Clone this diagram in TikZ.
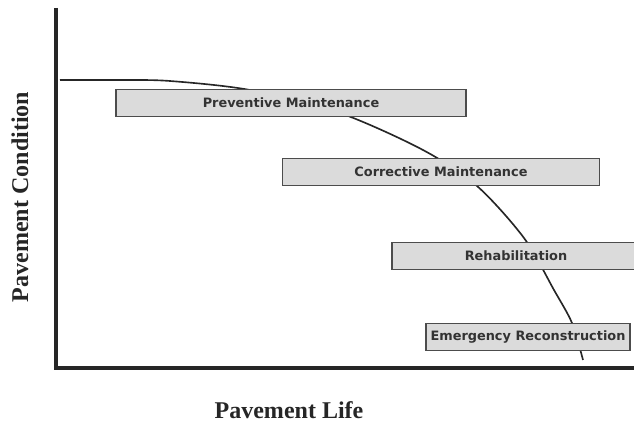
\documentclass[tikz,border=0pt]{standalone}
\usepackage{fontspec}
\setmainfont{Liberation Serif}
\newfontfamily\stagefont{DejaVu Sans}

\begin{document}
\begin{tikzpicture}[x=0.3mm, y=-0.3mm,
    stage/.style = {draw=black!70, line width=0.9pt, fill=black!14, text=black!80,
        inner sep=0pt, minimum height=8.1mm,
        font=\stagefont\bfseries\fontsize{11}{13}\selectfont},
    axislabel/.style = {text=black!85, font=\bfseries\fontsize{20.5}{24}\selectfont},
    axis/.style = {line width=1.2mm, black!85},
    life/.style = {line width=1.4pt, black!85}]
        \useasboundingbox (0,0) rectangle (634,423);
        % axes
        \coordinate (top) at (56,8);
        \coordinate (end) at (634,368);
        \draw[axis] (top) |- (end);
        % condition curve
        \draw[life] plot[smooth] coordinates {(60,80) (120,80) (170,81) (250,90) (340,113)
            (423,150) (477,186) (524,238) (554,290) (572,323) (583,360)};
        % treatment stages
        \node[stage, minimum width=105mm]  (pm) at (291,103) {Preventive Maintenance};
        \node[stage, minimum width=95.1mm] (cm) at (441,172) {Corrective Maintenance};
        \node[stage, minimum width=74.4mm] (rh) at (516,256) {Rehabilitation};
        \node[stage, minimum width=61.2mm] (er) at (528,337) {Emergency Reconstruction};
        % labels
        \node[axislabel, rotate=90] (ylab) at (20,197) {Pavement Condition};
        \node[axislabel] (xlab) at (289,410) {Pavement Life};
    \end{tikzpicture}
\end{document}
